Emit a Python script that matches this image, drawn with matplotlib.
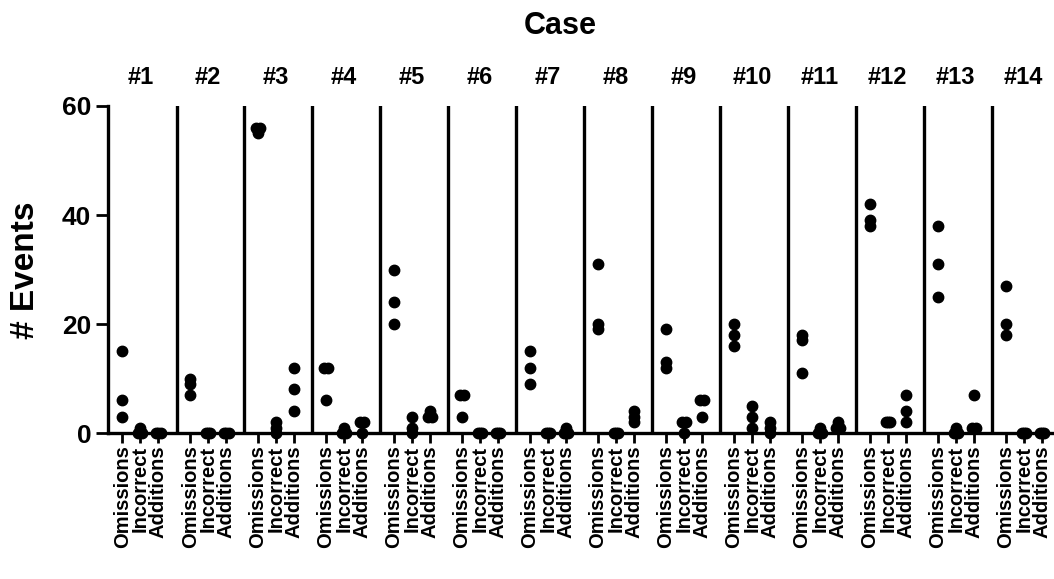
import matplotlib.pyplot as plt
import numpy as np

plt.rcParams['font.family'] = ['Liberation Sans', 'DejaVu Sans']

# data
cases = ['#1', '#2', '#3', '#4', '#5', '#6', '#7', '#8', '#9', '#10', '#11', '#12', '#13', '#14']
categories = ['Omissions', 'Incorrect', 'Additions']

omissions = [[15, 6, 3], [10, 9, 7], [56, 55, 56], [12, 12, 6], [30, 24, 20],
             [7, 7, 3], [15, 12, 9], [31, 20, 19], [19, 13, 12], [20, 18, 16],
             [18, 17, 11], [42, 39, 38], [38, 31, 25], [27, 20, 18]]
incorrect = [[1, 0, 0], [0, 0, 0], [2, 1, 0], [1, 0, 0], [3, 1, 0],
             [0, 0, 0], [0, 0, 0], [0, 0, 0], [2, 2, 0], [5, 3, 1],
             [1, 0, 0], [2, 2, 2], [1, 0, 0], [0, 0, 0]]
additions = [[0, 0, 0], [0, 0, 0], [12, 8, 4], [2, 2, 0], [4, 3, 3],
             [0, 0, 0], [1, 0, 0], [4, 3, 2], [6, 6, 3], [2, 1, 0],
             [2, 1, 1], [7, 4, 2], [7, 1, 1], [0, 0, 0]]

series = [omissions, incorrect, additions]

pitch = 3.75  # group spacing in x units

fig = plt.figure(figsize=(10.54, 5.79), dpi=100)
ax = fig.add_axes([0.1025, 0.252, 0.898, 0.565])

tick_pos = []
tick_lab = []
for g, case in enumerate(cases):
    base = g * pitch
    for k, ser in enumerate(series):
        x0 = base + k
        vals = np.array(ser[g])
        # spread out repeated values a little, like the original
        xs = np.full(len(vals), x0, dtype=float)
        for v in np.unique(vals):
            idx = np.where(vals == v)[0]
            if len(idx) > 1:
                xs[idx] = x0 + np.linspace(-0.12, 0.12, len(idx))
        ax.plot(xs, vals, 'o', color='black', ms=7.5, clip_on=False, zorder=5)
        tick_pos.append(x0)
        tick_lab.append(categories[k])
    ax.text(base + 1, 1.086, case, transform=ax.get_xaxis_transform(),
            ha='center', va='center', fontsize=17, fontweight='bold')
    if g < len(cases) - 1:
        ax.axvline(base + 3.0, ymin=0, ymax=1, color='black', lw=2.4)

ax.set_xlim(-0.78, 51.45)
ax.set_ylim(0, 60)
ax.set_yticks([0, 20, 40, 60])
ax.set_xticks(tick_pos)
ax.set_xticklabels(tick_lab, rotation=90, fontsize=14.5, fontweight='bold')
for lab in ax.get_yticklabels():
    lab.set_fontsize(19)
    lab.set_fontweight('bold')

ax.spines['top'].set_visible(False)
ax.spines['right'].set_visible(False)
ax.spines['left'].set_linewidth(2.4)
ax.spines['bottom'].set_linewidth(2.4)
ax.tick_params(axis='x', length=7, width=2, pad=2)
ax.tick_params(axis='y', length=9, width=2, pad=3)

fig.text(25 / 1054, 1 - 270 / 579, '# Events', rotation=90, ha='center',
         va='center', fontsize=24, fontweight='bold')
fig.text(560 / 1054, 1 - 26 / 579, 'Case', ha='center', va='center',
         fontsize=22, fontweight='bold')

fig.savefig('out.png', dpi=100)
